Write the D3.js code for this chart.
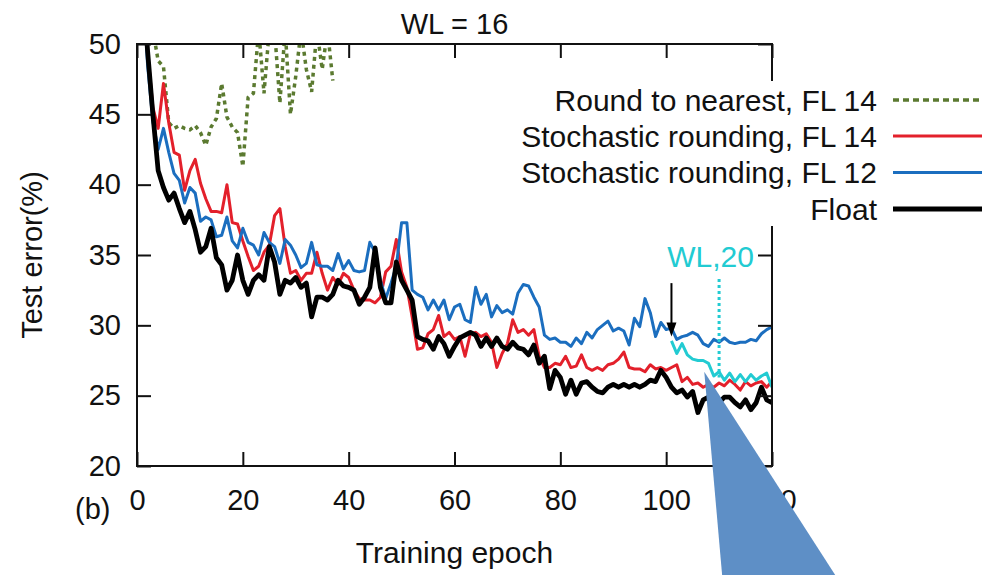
<!DOCTYPE html>
<html>
<head>
<meta charset="utf-8">
<script src="https://cdn.jsdelivr.net/npm/d3@7"></script>
<style>
  body { margin: 0; background: #fff; }
  svg { display: block; }
  text { font-family: "Liberation Sans", Arial, Helvetica, sans-serif; fill: #111; }
</style>
</head>
<body>
<svg id="chart" width="994" height="575"></svg>
<script>
// Test error (%) per training epoch, word length 16
const xTicks = [0, 20, 40, 60, 80, 100, 120];
const yTicks = [20, 25, 30, 35, 40, 45, 50];

// Float baseline, epochs 1..120
const floatErr = [
  55, 49.5, 45, 41, 39.8, 38.9, 39.4, 38.3, 37.3, 38.1,
  36.8, 35.2, 35.6, 36.9, 34.8, 34.3, 32.5, 33.2, 35.0, 33.2,
  32.2, 33.2, 33.6, 33.2, 35.6, 34.5, 32.2, 33.2, 33.0, 33.4,
  32.7, 33.0, 30.6, 32.0, 32.0, 31.8, 32.2, 33.2, 32.8, 32.7,
  32.5, 31.5, 32.0, 32.7, 35.5, 32.7, 31.6, 31.6, 34.5, 33.2,
  32.5, 31.8, 29.2, 29.0, 28.9, 28.3, 29.2, 28.7, 27.8, 28.5,
  29.1, 29.3, 29.5, 29.3, 28.5, 29.1, 28.5, 29.1, 28.5, 28.3,
  28.8, 28.4, 28.3, 27.9, 28.6, 27.3, 27.8, 25.5, 26.8, 26.3,
  25.1, 26.1, 25.1, 25.9, 26.0, 25.6, 25.3, 25.2, 25.6, 25.8,
  25.6, 25.8, 25.6, 25.8, 25.6, 25.8, 26.1, 26.0, 26.8, 26.3,
  25.6, 25.2, 25.4, 24.9, 25.3, 23.8, 24.7, 24.9, 25.2, 24.5,
  24.9, 24.9, 24.5, 24.2, 24.7, 24.0, 24.5, 25.6, 24.7, 24.5
];

// Stochastic rounding, FL 14, epochs 1..120
const stochFL14 = [
  55, 49.5, 45.5, 44.0, 47.2, 44.4, 42.3, 42.1, 39.6, 41.0,
  41.8, 40.1, 39.0, 38.1, 38.1, 38.0, 40.0, 37.3, 37.2, 36.0,
  34.9, 33.9, 34.2, 35.2, 35.7, 37.8, 38.3, 35.6, 33.7, 33.9,
  33.2, 33.7, 33.7, 35.2, 33.7, 32.5, 33.4, 32.9, 33.7, 33.4,
  32.5, 31.9, 31.8, 31.8, 31.6, 32.0, 33.8, 34.2, 36.1, 33.8,
  32.7, 30.6, 28.3, 28.4, 29.4, 29.7, 30.7, 29.2, 29.5, 29.0,
  29.2, 27.8, 29.4, 29.5, 29.2, 29.4, 28.8, 27.0, 28.0, 28.7,
  30.4, 29.5, 29.7, 29.3, 29.7, 27.8, 27.0, 27.0, 27.3, 27.2,
  27.8, 27.0, 27.1, 27.9, 27.0, 26.8, 27.0, 26.8, 27.2, 27.3,
  27.6, 28.1, 27.0, 26.9, 26.9, 26.7, 27.2, 26.9, 27.0, 26.8,
  27.0, 27.2, 26.0, 26.3, 25.8, 25.9, 25.6, 25.8, 25.6, 25.9,
  25.7, 26.1, 25.8, 25.4, 26.0, 25.7, 25.9, 26.0, 25.6, 26.0
];

// Stochastic rounding, FL 12, epochs 1..120
const stochFL12 = [
  55, 48.5, 44.5, 42.5, 44.0, 42.3, 40.8, 40.3, 38.7, 39.8,
  39.4, 37.4, 37.7, 37.5, 36.3, 36.4, 37.7, 36.0, 35.5, 36.9,
  35.9, 35.7, 35.0, 36.6, 35.9, 35.6, 34.4, 36.1, 35.7, 35.0,
  34.1, 34.4, 35.9, 34.3, 34.2, 34.2, 33.9, 35.1, 34.0, 34.6,
  33.9, 33.8, 33.9, 35.9, 35.2, 33.2, 31.9, 33.0, 34.2, 37.3,
  37.3, 32.5, 32.2, 32.0, 31.1, 31.8, 31.1, 31.8, 30.4, 31.3,
  31.5, 30.4, 30.2, 32.7, 31.5, 32.2, 30.6, 31.4, 30.9, 31.1,
  30.8, 32.3, 32.9, 32.8, 32.0, 31.3, 29.3, 29.0, 29.1, 28.8,
  28.8, 28.5, 29.1, 28.7, 29.5, 29.1, 29.7, 30.0, 30.3, 29.6,
  29.8, 29.6, 28.6, 30.5, 29.9, 31.9, 30.9, 29.2, 30.2, 29.7,
  29.8, 29.0, 29.2, 29.3, 29.5, 29.3, 28.7, 28.5, 29.0, 28.8,
  29.1, 28.8, 28.7, 28.8, 28.8, 29.0, 28.9, 29.4, 29.7, 29.9
];

// Round to nearest, FL 14, epochs 3..37 (diverges above 50 %)
const nearestStart = 3;
const nearestFL14 = [
  51, 48.8, 48.4, 44.4, 44.0, 44.2, 44.0, 43.9, 44.2, 43.7,
  42.8, 44.1, 44.7, 47.2, 44.8, 44.1, 43.7, 41.3, 46.2, 46.5,
  51, 46.5, 51, 51, 45.8, 51, 45.0, 47.7, 51, 48.2,
  46.6, 51, 48.2, 51, 47.4
];

// Continued with WL 20 from epoch 101
const wl20Start = 101;
const wl20 = [
  28.9, 28.0, 28.7, 27.9, 27.6, 27.5, 27.5, 27.3, 26.4, 26.7,
  26.1, 26.6, 26.0, 26.5, 26.0, 26.5, 26.1, 26.4, 26.6, 25.6
];

const legendLabels = ["Round to nearest, FL 14", "Stochastic rounding, FL 14",
                      "Stochastic rounding, FL 12", "Float"];

// Annotation anchors in data units
const arrowEpoch = 101, arrowFrom = 33.0, arrowTo = 29.2;
const switchEpoch = 110, switchFrom = 33.3, switchTo = 26.3;
const switchLabel = { epoch: 100.2, value: 34.15, text: "WL,20" };
const callout = [[107.2, 26.7], [111.1, 10], [135.8, 10]];

// ---- layout ----
const svg = d3.select("#chart");
const margin = { top: 44, right: 222, bottom: 109, left: 137 };
const W = 994 - margin.left - margin.right;
const H = 575 - margin.top - margin.bottom;
const g = svg.append("g").attr("transform", `translate(${margin.left},${margin.top})`);

const x = d3.scaleLinear().domain([0, 120]).range([0, W]);
const y = d3.scaleLinear().domain([20, 50]).range([H, 0]);

const FS = 29;

svg.append("defs").append("clipPath").attr("id", "plotClip")
  .append("rect").attr("x", 0).attr("y", 0).attr("width", W).attr("height", H);

const colors = { nearest: "#5b7a30", fl14: "#e3202b", fl12: "#1b6ebf", float: "#000", wl20: "#22cbd2" };

const line = d3.line().x(d => x(d[0])).y(d => y(d[1]));
const toPts = (arr, start) => arr.map((v, i) => [start + i, v]);

const plot = g.append("g").attr("clip-path", "url(#plotClip)");

plot.append("path").datum(toPts(nearestFL14, nearestStart))
  .attr("d", line).attr("fill", "none").attr("stroke", colors.nearest)
  .attr("stroke-width", 3.5).attr("stroke-dasharray", "4,4");
plot.append("path").datum(toPts(stochFL14, 1))
  .attr("d", line).attr("fill", "none").attr("stroke", colors.fl14)
  .attr("stroke-width", 3).attr("stroke-linejoin", "round");
plot.append("path").datum(toPts(stochFL12, 1))
  .attr("d", line).attr("fill", "none").attr("stroke", colors.fl12)
  .attr("stroke-width", 3).attr("stroke-linejoin", "round");
plot.append("path").datum(toPts(floatErr, 1))
  .attr("d", line).attr("fill", "none").attr("stroke", colors.float)
  .attr("stroke-width", 4.8).attr("stroke-linejoin", "round");
plot.append("path").datum(toPts(wl20, wl20Start))
  .attr("d", line).attr("fill", "none").attr("stroke", colors.wl20)
  .attr("stroke-width", 3).attr("stroke-linejoin", "round");

// ---- axes (inward ticks, mirrored) ----
const tickLen = 14;
const axLeft = g.append("g").call(d3.axisLeft(y).tickValues(yTicks).tickSize(-tickLen).tickSizeOuter(0).tickPadding(16));
const axBottom = g.append("g").attr("transform", `translate(0,${H})`)
  .call(d3.axisBottom(x).tickValues(xTicks).tickSize(-tickLen).tickSizeOuter(0).tickPadding(23));
const axRight = g.append("g").attr("transform", `translate(${W},0)`)
  .call(d3.axisRight(y).tickValues(yTicks).tickSize(-tickLen).tickSizeOuter(0).tickFormat(""));
const axTop = g.append("g")
  .call(d3.axisTop(x).tickValues(xTicks).tickSize(-tickLen).tickSizeOuter(0).tickFormat(""));
[axLeft, axBottom, axRight, axTop].forEach(a => {
  a.select(".domain").remove();
  a.selectAll(".tick line").attr("stroke", "#111").attr("stroke-width", 2);
  a.selectAll("text").attr("font-size", FS).attr("fill", "#111")
    .style("font-family", '"Liberation Sans", Arial, sans-serif');
});

g.append("rect").attr("x", 0).attr("y", 0).attr("width", W).attr("height", H)
  .attr("fill", "none").attr("stroke", "#111").attr("stroke-width", 2);

// ---- legend (opaque box over the frame) ----
const legend = svg.append("g");
legend.append("rect").attr("x", 540).attr("y", 81).attr("width", 450).attr("height", 145).attr("fill", "#fff");
const legendStyles = [
  { c: colors.nearest, w: 3.5, dash: "6,4" },
  { c: colors.fl14, w: 3, dash: null },
  { c: colors.fl12, w: 3, dash: null },
  { c: colors.float, w: 4.8, dash: null }
];
const rowY = [100, 136, 172.5, 209];
legendLabels.forEach((lab, i) => {
  legend.append("text").attr("x", 877).attr("y", rowY[i] + 10.7)
    .attr("text-anchor", "end").attr("font-size", 30).text(lab);
  legend.append("line").attr("x1", 893).attr("x2", 982).attr("y1", rowY[i]).attr("y2", rowY[i])
    .attr("stroke", legendStyles[i].c).attr("stroke-width", legendStyles[i].w)
    .attr("stroke-dasharray", legendStyles[i].dash);
});

// ---- WL 20 switch annotation ----
g.append("rect").attr("x", x(switchLabel.epoch) - 6).attr("y", 187).attr("width", W - x(switchLabel.epoch) + 5).attr("height", 22)
  .attr("fill", "#fff");
g.append("text").attr("x", x(switchLabel.epoch)).attr("y", y(switchLabel.value))
  .attr("font-size", 30).style("fill", colors.wl20).text(switchLabel.text);
g.append("line").attr("x1", x(switchEpoch)).attr("x2", x(switchEpoch))
  .attr("y1", y(switchFrom)).attr("y2", y(switchTo))
  .attr("stroke", colors.wl20).attr("stroke-width", 3).attr("stroke-dasharray", "3,3");
g.append("line").attr("x1", x(arrowEpoch)).attr("x2", x(arrowEpoch))
  .attr("y1", y(arrowFrom)).attr("y2", y(arrowTo) - 10)
  .attr("stroke", "#000").attr("stroke-width", 2);
{
  const ax = x(arrowEpoch), ay = y(arrowTo);
  g.append("path").attr("d", `M${ax},${ay} L${ax - 5},${ay - 14} L${ax + 5},${ay - 14} Z`).attr("fill", "#000");
}

// ---- titles ----
svg.append("text").attr("x", margin.left + W / 2).attr("y", 34).attr("text-anchor", "middle")
  .attr("font-size", FS).text("WL = 16");
svg.append("text").attr("x", margin.left + W / 2).attr("y", 563).attr("text-anchor", "middle")
  .attr("font-size", 30).text("Training epoch");
svg.append("text").attr("transform", `translate(42,${margin.top + H / 2}) rotate(-90)`)
  .attr("text-anchor", "middle").attr("font-size", 29).text("Test error(%)");
svg.append("text").attr("x", 75).attr("y", 519).attr("font-size", FS).text("(b)");

// ---- callout wedge ----
svg.append("path")
  .attr("d", "M" + callout.map(p => [margin.left + x(p[0]), margin.top + y(p[1])].join(",")).join("L") + "Z")
  .attr("fill", "#5e8fc6");
</script>
</body>
</html>
